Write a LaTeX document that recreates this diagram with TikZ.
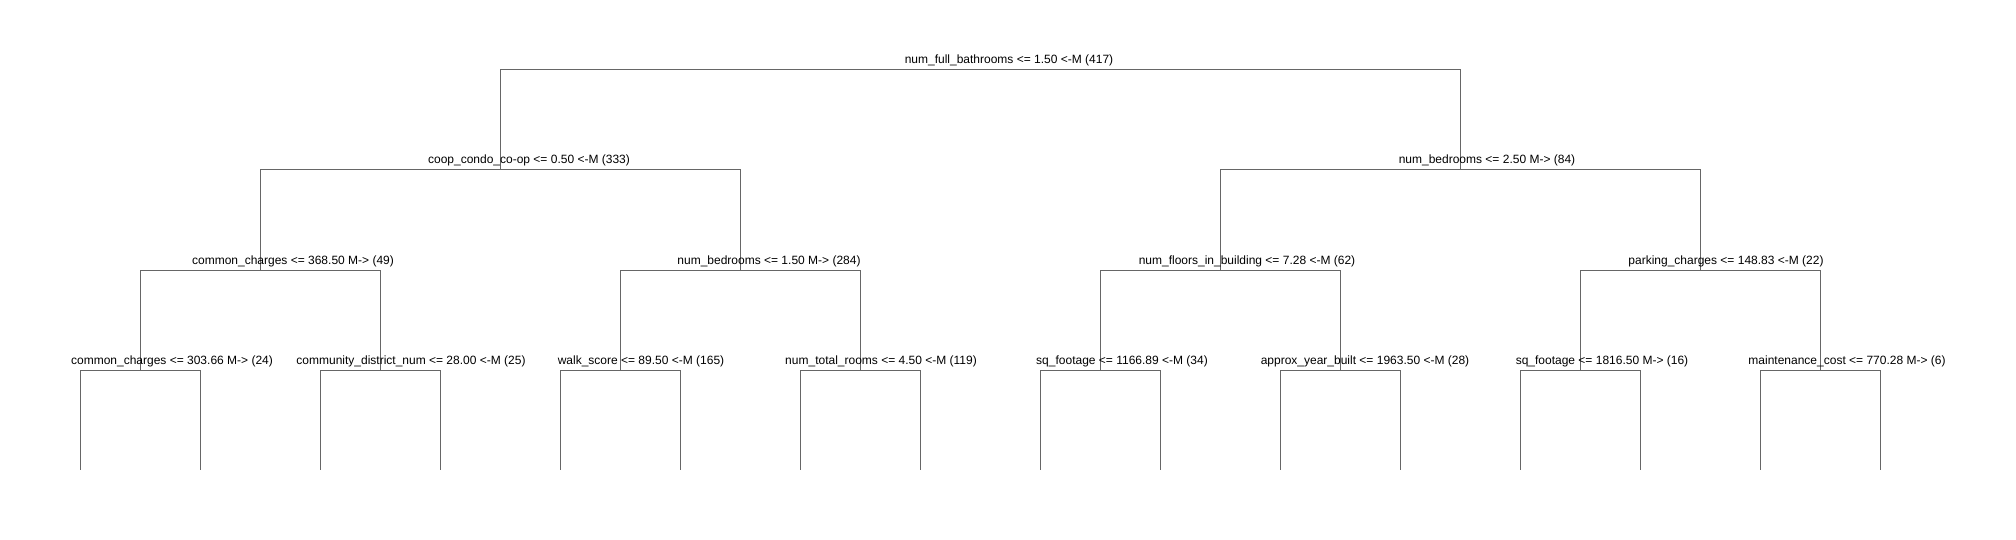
\documentclass[tikz,border=0pt]{standalone}
\usepackage{fontspec}
\setmainfont{Liberation Sans}
\begin{document}
\begin{tikzpicture}[x=1pt,y=-1pt,
  edge/.style={draw=black!60, line width=1pt},
  lbl/.style={inner sep=0pt, anchor=base, font=\fontsize{12}{14}\selectfont}]
\useasboundingbox (0,0) rectangle (2016,540);
% junctions
\coordinate (n1) at (980,70);
\coordinate (n2) at (500,170);
\coordinate (n3) at (1460,170);
\coordinate (n4) at (260,270);
\coordinate (n5) at (740,270);
\coordinate (n6) at (1220,270);
\coordinate (n7) at (1700,270);
\coordinate (n8) at (140,370);
\coordinate (n9) at (380,370);
\coordinate (n10) at (620,370);
\coordinate (n11) at (860,370);
\coordinate (n12) at (1100,370);
\coordinate (n13) at (1340,370);
\coordinate (n14) at (1580,370);
\coordinate (n15) at (1820,370);
\foreach \i [count=\k] in {80,200,320,440,560,680,800,920,1040,1160,1280,1400,1520,1640,1760,1880}
  \coordinate (l\k) at (\i,470);
% edges
\draw[edge] (n1) -| (n2); \draw[edge] (n1) -| (n3);
\draw[edge] (n2) -| (n4); \draw[edge] (n2) -| (n5);
\draw[edge] (n3) -| (n6); \draw[edge] (n3) -| (n7);
\draw[edge] (n4) -| (n8); \draw[edge] (n4) -| (n9);
\draw[edge] (n5) -| (n10); \draw[edge] (n5) -| (n11);
\draw[edge] (n6) -| (n12); \draw[edge] (n6) -| (n13);
\draw[edge] (n7) -| (n14); \draw[edge] (n7) -| (n15);
\draw[edge] (n8) -| (l1); \draw[edge] (n8) -| (l2);
\draw[edge] (n9) -| (l3); \draw[edge] (n9) -| (l4);
\draw[edge] (n10) -| (l5); \draw[edge] (n10) -| (l6);
\draw[edge] (n11) -| (l7); \draw[edge] (n11) -| (l8);
\draw[edge] (n12) -| (l9); \draw[edge] (n12) -| (l10);
\draw[edge] (n13) -| (l11); \draw[edge] (n13) -| (l12);
\draw[edge] (n14) -| (l13); \draw[edge] (n14) -| (l14);
\draw[edge] (n15) -| (l15); \draw[edge] (n15) -| (l16);
% labels
\node[lbl] (t1) at (1009,64) {num\_full\_bathrooms <= 1.50 <-M (417)};
\node[lbl] (t2) at (529,164) {coop\_condo\_co-op <= 0.50 <-M (333)};
\node[lbl] (t3) at (1487,164) {num\_bedrooms <= 2.50 M-> (84)};
\node[lbl] (t4) at (293,264) {common\_charges <= 368.50 M-> (49)};
\node[lbl] (t5) at (769,264) {num\_bedrooms <= 1.50 M-> (284)};
\node[lbl] (t6) at (1247,264) {num\_floors\_in\_building <= 7.28 <-M (62)};
\node[lbl] (t7) at (1726,264) {parking\_charges <= 148.83 <-M (22)};
\node[lbl] (t8) at (172,364) {common\_charges <= 303.66 M-> (24)};
\node[lbl] (t9) at (411,364) {community\_district\_num <= 28.00 <-M (25)};
\node[lbl] (t10) at (641,364) {walk\_score <= 89.50 <-M (165)};
\node[lbl] (t11) at (881,364) {num\_total\_rooms <= 4.50 <-M (119)};
\node[lbl] (t12) at (1122,364) {sq\_footage <= 1166.89 <-M (34)};
\node[lbl] (t13) at (1365,364) {approx\_year\_built <= 1963.50 <-M (28)};
\node[lbl] (t14) at (1602,364) {sq\_footage <= 1816.50 M-> (16)};
\node[lbl] (t15) at (1847,364) {maintenance\_cost <= 770.28 M-> (6)};
\end{tikzpicture}
\end{document}
